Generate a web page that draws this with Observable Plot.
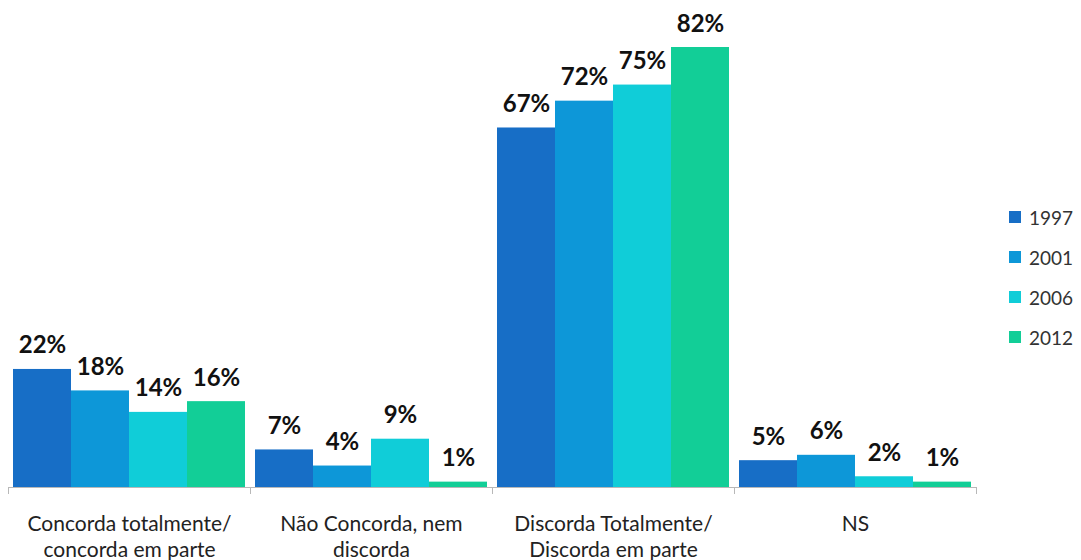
<!DOCTYPE html>
<html>
<head>
<meta charset="utf-8">
<script src="https://cdn.jsdelivr.net/npm/d3@7"></script>
<script src="https://cdn.jsdelivr.net/npm/@observablehq/plot@0.6"></script>
<style>
  html, body { margin: 0; padding: 0; background: #fff; }
  #wrap { position: relative; width: 1081px; height: 560px; font-family: Lato, "Open Sans", sans-serif; }
  #legend { position: absolute; left: 1009px; top: 197px; }
  .item { display: flex; align-items: center; height: 40px; font-size: 19px; color: #333; }
  .sw { width: 12px; height: 12px; margin-right: 8px; }
</style>
</head>
<body>
<div id="wrap"><div id="chart"></div><div id="legend"></div></div>
<script>
const categories = ["Concorda totalmente/\nconcorda em parte", "Não Concorda, nem\ndiscorda", "Discorda Totalmente/\nDiscorda em parte", "NS"];
const years = ["1997", "2001", "2006", "2012"];
const v1997 = [22, 7, 67, 5];
const v2001 = [18, 4, 72, 6];
const v2006 = [14, 9, 75, 2];
const v2012 = [16, 1, 82, 1];
const colors = ["#176ec6", "#0d97d8", "#10cdd8", "#12ce97"];

const series = [v1997, v2001, v2006, v2012];
const data = [];
categories.forEach((c, i) => years.forEach((y, j) => data.push({cat: c, year: y, value: series[j][i]})));

const chart = Plot.plot({
  width: 1081,
  height: 560,
  marginLeft: 8,
  marginRight: 105,
  marginTop: 47,
  marginBottom: 73,
  style: {fontFamily: "Lato, 'Open Sans', sans-serif", background: "#fff"},
  fx: {domain: categories, padding: 0, label: null},
  x: {domain: years, axis: null, paddingInner: 0, paddingOuter: 0.075},
  y: {domain: [0, 82], axis: null},
  color: {domain: years, range: colors},
  marks: [
    Plot.barY(data, {fx: "cat", x: "year", y: "value", fill: "year"}),
    Plot.text(data, {fx: "cat", x: "year", y: "value", text: d => d.value + "%", lineAnchor: "bottom", dy: -16, fontSize: 24, fontWeight: "bold", fill: "#111"}),
    Plot.ruleY([0], {stroke: "#b8b8b8", strokeWidth: 1}),
    Plot.frame({anchor: "left", stroke: "#b8b8b8", insetTop: 440, insetBottom: -6}),
    Plot.frame({anchor: "right", stroke: "#b8b8b8", insetTop: 440, insetBottom: -6}),
    Plot.axisFx({anchor: "bottom", tickSize: 0, tickPadding: 25, fontSize: 21, lineHeight: 1.24, label: null, fill: "#222"})
  ]
});
document.getElementById("chart").appendChild(chart);

const legend = document.getElementById("legend");
years.forEach((y, i) => {
  const it = document.createElement("div");
  it.className = "item";
  it.innerHTML = `<span class="sw" style="background:${colors[i]}"></span><span>${y}</span>`;
  legend.appendChild(it);
});
</script>
</body>
</html>
